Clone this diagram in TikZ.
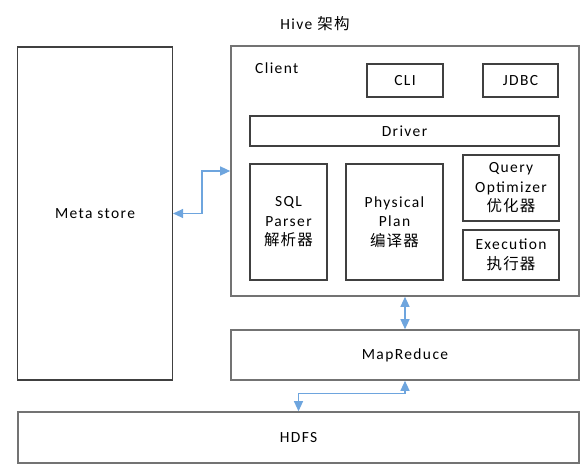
\documentclass[tikz,border=0pt]{standalone}
\usepackage{fontspec}
\setmainfont{Carlito}[LetterSpace=9]
\newfontfamily\cjk{Noto Sans CJK SC}[LetterSpace=8]
\usetikzlibrary{arrows.meta}
\tikzset{
  box/.style={draw=black!75, line width=1.1pt, inner sep=0pt, align=center, font=\fontsize{15.5}{19.5}\selectfont},
  bigbox/.style={draw=black!55, line width=1.6pt, inner sep=0pt, align=center, font=\fontsize{15.5}{19.5}\selectfont},
  lbl/.style={inner sep=0pt, font=\fontsize{15.5}{19.5}\selectfont},
  arr/.style={draw={rgb,255:red,110;green,165;blue,222}, line width=1.2pt,
    {Triangle[length=10pt,width=9pt]}-{Triangle[length=10pt,width=9pt]}}
}
\begin{document}
\begin{tikzpicture}[x=1pt,y=-1pt]
\useasboundingbox (0,0) rectangle (588,470);
\node[lbl] (title) at (315,24) {Hive {\cjk 架构}};
\node[box, minimum width=155pt, minimum height=333pt] (meta) at (95,213.5) {Meta store};
\node[bigbox, minimum width=348pt, minimum height=250pt] (client) at (405,171) {};
\node[lbl, anchor=west] (clientlbl) at (255,68) {Client};
\node[box, minimum width=76pt, minimum height=33pt] (cli) at (405,80.5) {CLI};
\node[box, minimum width=75pt, minimum height=33pt] (jdbc) at (520.5,80.5) {JDBC};
\node[box, minimum width=309pt, minimum height=30pt] (driver) at (404.5,131) {Driver};
\node[box, minimum width=77pt, minimum height=116pt] (sql) at (288.5,222) {SQL\\Parser\\{\cjk 解析器}};
\node[box, minimum width=97pt, minimum height=116pt] (phys) at (394.5,222) {Physical\\Plan\\{\cjk 编译器}};
\node[box, minimum width=96pt, minimum height=66pt] (qo) at (511,188) {Query\\Optimizer\\{\cjk 优化器}};
\node[box, minimum width=96pt, minimum height=50pt] (exec) at (511,255) {Execution\\{\cjk 执行器}};
\node[bigbox, minimum width=348pt, minimum height=50pt] (mr) at (405,355) {MapReduce};
\node[bigbox, minimum width=561pt, minimum height=51pt] (hdfs) at (298.5,437.5) {HDFS};
\draw[arr] (meta.east) -- ++(29,0) |- (client.west);
\draw[arr] (client.south) -- (mr.north);
\draw[arr] (mr.south) -- ++(0,13) -| (hdfs.north);
\end{tikzpicture}
\end{document}
